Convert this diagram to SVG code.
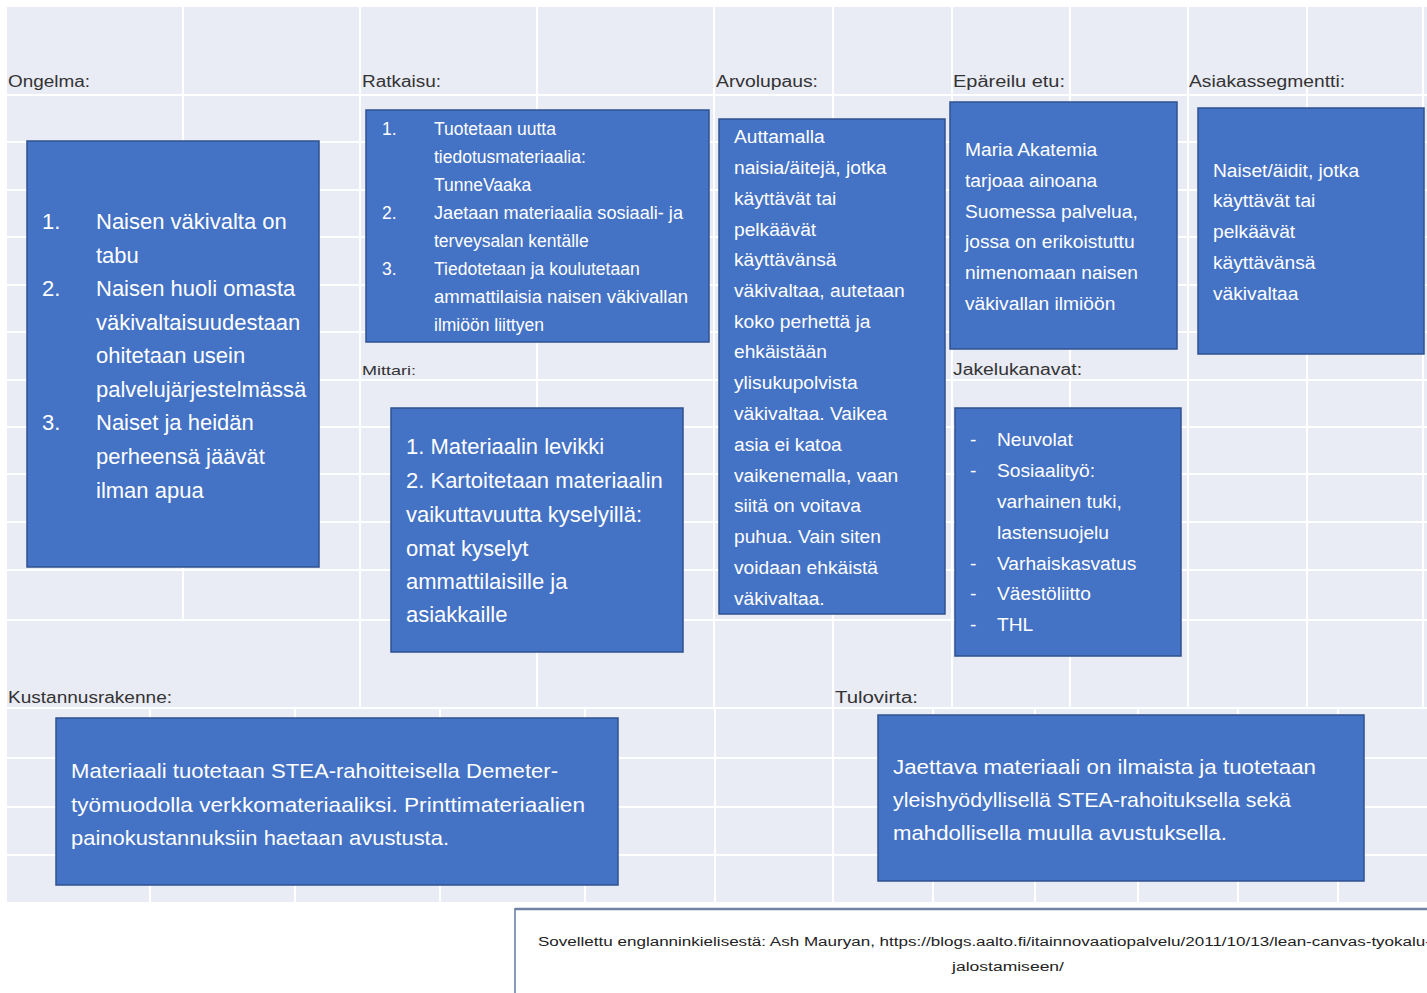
<svg xmlns="http://www.w3.org/2000/svg" width="1427" height="993" viewBox="0 0 1427 993">
<style>
.grid{stroke:#ffffff;stroke-width:2;fill:none}
.box{fill:#4472c4;stroke:#2f528f;stroke-width:1.5}
.lbl{font-family:"Liberation Sans",Arial,sans-serif;font-size:16px;fill:#333333}
.t{font-family:"Liberation Sans",Arial,sans-serif;fill:#ffffff}
.t22{font-size:22px}
.t16{font-size:17.5px}
.t19{font-size:19.2px}
.t21{font-size:21px}
.ref{font-family:"Liberation Sans",Arial,sans-serif;font-size:12px;fill:#222222}
</style>
<rect x="0" y="0" width="1427" height="993" fill="#ffffff"/>
<rect x="7" y="7" width="1420" height="895" fill="#e9ebf5"/>
<g id="grid">
<path class="grid" d="M7 95H1427M7 142H1427M7 190H1427M7 237H1427M7 285H1427M7 332H1427M7 380H1427M7 427H1427M7 474H1427M7 522H1427M7 570H1427M7 620H1427M7 708H1427M7 758H1427M7 807H1427M7 855H1427"/>
<path class="grid" d="M183 7V620M360 7V708M537 7V708M714 7V708M833 7V708M952 7V708M1070 7V708M1188 7V708M1307 7V708M1423 7V708"/>
<path class="grid" d="M150 708V902M295 708V902M440 708V902M585 708V902M715 708V902M833 708V902M933 708V902M1035 708V902M1138 708V902M1238 708V902M1338 708V902"/>
</g>
<g id="labels">
<text class="lbl" x="8" y="87" textLength="82" lengthAdjust="spacingAndGlyphs">Ongelma:</text>
<text class="lbl" x="362" y="87" textLength="79" lengthAdjust="spacingAndGlyphs">Ratkaisu:</text>
<text class="lbl" x="716" y="87" textLength="102" lengthAdjust="spacingAndGlyphs">Arvolupaus:</text>
<text class="lbl" x="953" y="87" textLength="112" lengthAdjust="spacingAndGlyphs">Epäreilu etu:</text>
<text class="lbl" x="1189" y="87" textLength="156" lengthAdjust="spacingAndGlyphs">Asiakassegmentti:</text>
<text class="lbl" x="362" y="375" style="font-size:13px" textLength="54" lengthAdjust="spacingAndGlyphs">Mittari:</text>
<text class="lbl" x="953" y="375" textLength="129" lengthAdjust="spacingAndGlyphs">Jakelukanavat:</text>
<text class="lbl" x="8" y="703" textLength="164" lengthAdjust="spacingAndGlyphs">Kustannusrakenne:</text>
<text class="lbl" x="835" y="703" textLength="83" lengthAdjust="spacingAndGlyphs">Tulovirta:</text>
</g>
<g id="ongelma">
<rect class="box" x="27" y="141" width="292" height="426"/>
<text class="t t22"><tspan x="42" y="229">1.</tspan><tspan x="96" y="229">Naisen väkivalta on</tspan><tspan x="96" y="263">tabu</tspan><tspan x="42" y="296">2.</tspan><tspan x="96" y="296">Naisen huoli omasta</tspan><tspan x="96" y="330">väkivaltaisuudestaan</tspan><tspan x="96" y="363">ohitetaan usein</tspan><tspan x="96" y="397">palvelujärjestelmässä</tspan><tspan x="42" y="430">3.</tspan><tspan x="96" y="430">Naiset ja heidän</tspan><tspan x="96" y="464">perheensä jäävät</tspan><tspan x="96" y="498">ilman apua</tspan></text>
</g>
<g id="ratkaisu">
<rect class="box" x="366" y="110" width="343" height="232"/>
<text class="t t16" x="382" y="135">1.</text>
<text class="t t16" x="434" y="135">Tuotetaan uutta</text>
<text class="t t16" x="434" y="163">tiedotusmateriaalia:</text>
<text class="t t16" x="434" y="191">TunneVaaka</text>
<text class="t t16" x="382" y="219">2.</text>
<text class="t t16" x="434" y="219" textLength="249" lengthAdjust="spacingAndGlyphs">Jaetaan materiaalia sosiaali- ja</text>
<text class="t t16" x="434" y="247">terveysalan kentälle</text>
<text class="t t16" x="382" y="275">3.</text>
<text class="t t16" x="434" y="275">Tiedotetaan ja koulutetaan</text>
<text class="t t16" x="434" y="303" textLength="254" lengthAdjust="spacingAndGlyphs">ammattilaisia naisen väkivallan</text>
<text class="t t16" x="434" y="331">ilmiöön liittyen</text>
</g>
<g id="arvolupaus">
<rect class="box" x="719" y="119" width="226" height="495"/>
<text class="t t19"><tspan x="734" y="143">Auttamalla</tspan><tspan x="734" y="174">naisia/äitejä, jotka</tspan><tspan x="734" y="205">käyttävät tai</tspan><tspan x="734" y="236">pelkäävät</tspan><tspan x="734" y="266">käyttävänsä</tspan><tspan x="734" y="297">väkivaltaa, autetaan</tspan><tspan x="734" y="328">koko perhettä ja</tspan><tspan x="734" y="358">ehkäistään</tspan><tspan x="734" y="389">ylisukupolvista</tspan><tspan x="734" y="420">väkivaltaa. Vaikea</tspan><tspan x="734" y="451">asia ei katoa</tspan><tspan x="734" y="482">vaikenemalla, vaan</tspan><tspan x="734" y="512">siitä on voitava</tspan><tspan x="734" y="543">puhua. Vain siten</tspan><tspan x="734" y="574">voidaan ehkäistä</tspan><tspan x="734" y="605">väkivaltaa.</tspan></text>
</g>
<g id="epareilu">
<rect class="box" x="950" y="102" width="227" height="247"/>
<text class="t t19"><tspan x="965" y="156">Maria Akatemia</tspan><tspan x="965" y="187">tarjoaa ainoana</tspan><tspan x="965" y="218">Suomessa palvelua,</tspan><tspan x="965" y="248">jossa on erikoistuttu</tspan><tspan x="965" y="279">nimenomaan naisen</tspan><tspan x="965" y="310">väkivallan ilmiöön</tspan></text>
</g>
<g id="asiakassegmentti">
<rect class="box" x="1198" y="108" width="226" height="246"/>
<text class="t t19"><tspan x="1213" y="177">Naiset/äidit, jotka</tspan><tspan x="1213" y="207">käyttävät tai</tspan><tspan x="1213" y="238">pelkäävät</tspan><tspan x="1213" y="269">käyttävänsä</tspan><tspan x="1213" y="300">väkivaltaa</tspan></text>
</g>
<g id="mittari">
<rect class="box" x="391" y="408" width="292" height="244"/>
<text class="t t22"><tspan x="406" y="454">1. Materiaalin levikki</tspan><tspan x="406" y="488">2. Kartoitetaan materiaalin</tspan><tspan x="406" y="522">vaikuttavuutta kyselyillä:</tspan><tspan x="406" y="556">omat kyselyt</tspan><tspan x="406" y="589">ammattilaisille ja</tspan><tspan x="406" y="622">asiakkaille</tspan></text>
</g>
<g id="jakelukanavat">
<rect class="box" x="955" y="408" width="226" height="248"/>
<text class="t t19"><tspan x="970" y="446">-</tspan><tspan x="997" y="446">Neuvolat</tspan><tspan x="970" y="477">-</tspan><tspan x="997" y="477">Sosiaalityö:</tspan><tspan x="997" y="508">varhainen tuki,</tspan><tspan x="997" y="539">lastensuojelu</tspan><tspan x="970" y="570">-</tspan><tspan x="997" y="570">Varhaiskasvatus</tspan><tspan x="970" y="600">-</tspan><tspan x="997" y="600">Väestöliitto</tspan><tspan x="970" y="631">-</tspan><tspan x="997" y="631">THL</tspan></text>
</g>
<g id="kustannusrakenne">
<rect class="box" x="56" y="718" width="562" height="167"/>
<text class="t t21" x="71" y="778" textLength="487" lengthAdjust="spacingAndGlyphs">Materiaali tuotetaan STEA-rahoitteisella Demeter-</text>
<text class="t t21" x="71" y="812" textLength="514" lengthAdjust="spacingAndGlyphs">työmuodolla verkkomateriaaliksi. Printtimateriaalien</text>
<text class="t t21" x="71" y="845" textLength="378" lengthAdjust="spacingAndGlyphs">painokustannuksiin haetaan avustusta.</text>
</g>
<g id="tulovirta">
<rect class="box" x="878" y="715" width="486" height="166"/>
<text class="t t21" x="893" y="774" textLength="423" lengthAdjust="spacingAndGlyphs">Jaettava materiaali on ilmaista ja tuotetaan</text>
<text class="t t21" x="893" y="807" textLength="398" lengthAdjust="spacingAndGlyphs">yleishyödyllisellä STEA-rahoituksella sekä</text>
<text class="t t21" x="893" y="840" textLength="334" lengthAdjust="spacingAndGlyphs">mahdollisella muulla avustuksella.</text>
</g>
<g id="lahde">
<rect x="515" y="909" width="930" height="100" fill="#ffffff" stroke="#8a9bb8" stroke-width="2"/>
<line x1="515" y1="909" x2="1427" y2="909" stroke="#6f82a3" stroke-width="2.5"/>
<text class="ref" x="538" y="946" textLength="893" lengthAdjust="spacingAndGlyphs">Sovellettu englanninkielisestä: Ash Mauryan, https://blogs.aalto.fi/itainnovaatiopalvelu/2011/10/13/lean-canvas-tyokalu-</text>
<text class="ref" x="1008" y="971" text-anchor="middle" textLength="112" lengthAdjust="spacingAndGlyphs">jalostamiseen/</text>
</g>
<g id="connectors"></g>
</svg>
